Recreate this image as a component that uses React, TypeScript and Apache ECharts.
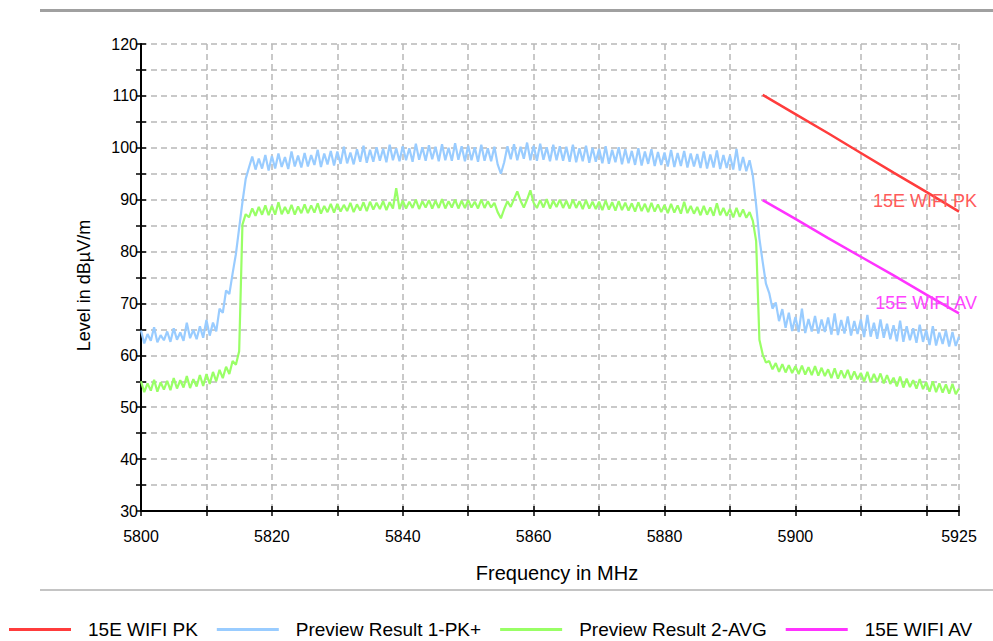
import React, { useEffect, useRef } from "react";
import * as echarts from "echarts";

// ---------- data ----------
const X_TICK_LABELS = [5800, 5820, 5840, 5860, 5880, 5900, 5925];
const Y_TICK_LABELS = [30, 40, 50, 60, 70, 80, 90, 100, 110, 120];

// Sweep traces: one value every 0.5 MHz from 5800 MHz to 5925 MHz
const TRACE_START = 5800;
const TRACE_STEP = 0.5;

const PK_PLUS = [
  64.8, 62.3, 64.1, 62.8, 65.4, 62.5, 63.9, 62.9, 64.6, 62.6,
  65.2, 63.0, 64.4, 62.8, 66.3, 63.3, 64.9, 63.1, 65.6, 63.4,
  66.8, 63.8, 66.3, 64.6, 69.0, 68.2, 72.5, 71.8, 75.8, 79.5,
  84.5, 89.5, 94.0, 96.2, 98.3, 95.8, 97.9, 96.0, 98.6, 95.6,
  98.4, 96.0, 98.9, 96.3, 98.2, 95.9, 99.3, 96.4, 98.5, 96.2,
  99.0, 96.4, 98.6, 96.7, 99.6, 96.3, 98.9, 96.8, 99.4, 96.6,
  99.3, 96.9, 100.2, 97.0, 99.1, 96.8, 99.7, 97.3, 100.4, 97.1,
  99.6, 97.3, 100.1, 97.5, 99.8, 97.2, 100.6, 97.6, 99.9, 97.4,
  100.3, 97.6, 99.9, 97.3, 100.8, 97.7, 100.1, 97.5, 100.5, 97.8,
  100.2, 97.4, 100.7, 97.6, 100.0, 97.5, 100.9, 97.7, 100.3, 97.4,
  100.4, 97.6, 100.1, 97.3, 100.6, 97.5, 99.9, 97.4, 100.2, 96.8,
  95.0, 97.2, 100.3, 97.8, 100.7, 97.6, 100.2, 97.9, 101.0, 97.6,
  100.4, 97.5, 100.8, 97.7, 100.1, 97.4, 100.6, 97.6, 100.3, 97.5,
  100.2, 97.3, 100.6, 97.2, 99.9, 97.4, 100.4, 97.1, 100.0, 97.3,
  99.8, 97.0, 100.3, 96.9, 99.6, 97.2, 100.1, 96.8, 99.7, 97.0,
  99.4, 96.7, 99.9, 96.6, 99.3, 96.9, 99.7, 96.5, 99.2, 96.7,
  99.1, 96.4, 99.6, 96.3, 99.0, 96.5, 99.4, 96.2, 98.9, 96.4,
  98.8, 96.1, 99.3, 96.0, 98.7, 96.2, 99.5, 95.9, 98.6, 96.1,
  98.5, 95.8, 99.8, 95.6, 98.2, 95.5, 97.6, 94.6, 89.0, 82.5,
  78.0, 73.8, 72.0, 69.0, 70.2, 66.6, 68.9, 65.3, 68.2, 64.7,
  67.4, 64.5, 69.0, 64.3, 67.0, 64.6, 67.6, 64.2, 66.9, 64.5,
  67.3, 64.0, 68.1, 63.9, 66.8, 64.2, 67.5, 63.8, 66.6, 64.1,
  66.9, 63.5, 67.8, 63.6, 66.3, 63.2, 66.9, 63.4, 66.1, 63.1,
  65.8, 62.7, 66.7, 62.6, 65.6, 62.9, 65.2, 62.4, 65.9, 62.6,
  64.9, 62.0, 65.6, 61.9, 64.4, 62.2, 64.8, 61.7, 64.5, 61.8,
  63.6,
];

const AVG = [
  55.0, 52.9, 54.6, 53.2, 55.3, 53.0, 54.8, 53.4, 55.1, 53.3,
  55.6, 53.6, 55.2, 53.8, 56.0, 53.7, 55.4, 54.0, 56.2, 54.1,
  56.4, 54.5, 56.8, 55.0, 57.2, 55.6, 57.8, 56.4, 58.9, 58.2,
  60.8, 85.2, 87.2, 86.6, 88.3, 86.9, 88.6, 87.1, 88.9, 87.0,
  88.8, 87.1, 89.5, 87.2, 88.6, 87.3, 89.0, 87.1, 88.7, 87.4,
  89.1, 87.4, 88.9, 87.5, 89.3, 87.3, 88.8, 87.6, 89.2, 87.5,
  89.2, 87.7, 89.0, 87.8, 89.4, 87.6, 89.1, 87.9, 89.5, 87.8,
  89.6, 88.1, 89.4, 88.2, 89.7, 88.0, 89.5, 88.3, 92.2, 88.2,
  89.8, 88.3, 89.6, 88.4, 90.0, 88.2, 89.7, 88.5, 89.9, 88.3,
  89.8, 88.4, 90.1, 88.3, 89.7, 88.5, 90.0, 88.3, 89.8, 88.4,
  89.9, 88.5, 89.6, 88.3, 90.0, 88.4, 89.7, 88.5, 89.4, 87.6,
  86.4, 88.2, 89.7, 88.6, 90.1, 91.6, 89.8, 88.5, 90.0, 91.8,
  89.4, 88.4, 89.9, 88.5, 90.1, 88.3, 89.8, 88.6, 90.0, 88.4,
  89.8, 88.3, 90.0, 88.4, 89.7, 88.2, 89.9, 88.3, 89.6, 88.2,
  89.6, 88.0, 89.8, 88.1, 89.5, 87.9, 89.7, 88.0, 89.4, 87.9,
  89.3, 87.7, 89.5, 87.8, 89.2, 87.6, 89.4, 87.7, 89.1, 87.6,
  89.0, 87.4, 89.2, 87.5, 88.9, 87.3, 89.6, 87.4, 88.8, 87.3,
  88.6, 87.0, 88.8, 87.1, 88.5, 86.9, 89.3, 87.0, 88.4, 86.9,
  88.2, 86.6, 88.4, 86.7, 88.1, 86.5, 87.6, 85.9, 82.0, 63.0,
  60.2, 58.6, 58.9, 57.3, 58.5, 56.8, 58.3, 56.7, 58.1, 56.6,
  57.9, 56.4, 58.0, 56.3, 57.7, 56.2, 57.9, 56.1, 57.6, 56.0,
  57.3, 55.6, 57.5, 55.5, 57.1, 55.6, 57.2, 55.3, 56.9, 55.4,
  56.6, 55.0, 56.8, 54.8, 56.4, 54.9, 56.5, 54.6, 56.2, 54.5,
  55.7, 54.0, 55.9, 53.8, 55.5, 53.9, 55.2, 53.6, 55.4, 53.5,
  54.8, 53.0, 55.0, 52.9, 54.6, 52.8, 54.4, 52.6, 54.5, 52.5,
  53.6,
];

// Limit lines
const LIMIT_FREQ = [5895, 5900, 5905, 5910, 5915, 5920, 5925];
const LIMIT_PK = [110.2, 106.5, 102.8, 99.0, 95.2, 91.5, 87.7];
const LIMIT_AV = [89.9, 86.3, 82.6, 79.0, 75.4, 71.7, 68.1];

const SERIES_NAMES = ["15E WIFI PK", "Preview Result 1-PK+", "Preview Result 2-AVG", "15E WIFI AV"];
const COLORS = ["#ff3c3c", "#99ccff", "#99ff66", "#ff33ff"];

const FONT = "'Liberation Sans', Arial, sans-serif";

export default function App() {
  const ref = useRef<HTMLDivElement>(null);

  useEffect(() => {
    document.body.style.margin = "0";
    if (!ref.current) return;
    const chart = echarts.init(ref.current, null, { renderer: "svg" });

    const trace = (vals: number[]) => vals.map((v, i) => [TRACE_START + i * TRACE_STEP, v]);
    const limit = (vals: number[]) => vals.map((v, i) => [LIMIT_FREQ[i], v]);

    const xFmt = (v: number) => (X_TICK_LABELS.indexOf(v) >= 0 ? String(v) : "");
    const yFmt = (v: number) => (Y_TICK_LABELS.indexOf(v) >= 0 ? String(v) : "");

    const splitStyle = { color: "#b8b8b8", width: 1.5, type: [6, 4] as any };

    const option: any = {
      animation: false,
      backgroundColor: "#ffffff",
      textStyle: { fontFamily: FONT },
      grid: { left: 141, right: 34, top: 44, bottom: 130, containLabel: false },
      xAxis: [
        {
          type: "value",
          min: 5800,
          max: 5925,
          interval: 10,
          position: "bottom",
          name: "Frequency in MHz",
          nameLocation: "middle",
          nameGap: 52,
          nameTextStyle: { color: "#000", fontSize: 20, fontFamily: FONT, padding: [0, 0, 0, 14] },
          axisLine: { onZero: false, lineStyle: { color: "#000", width: 2 } },
          axisTick: { show: true, length: 5, lineStyle: { color: "#000", width: 1.5 } },
          axisLabel: { formatter: xFmt, color: "#000", fontSize: 16, fontFamily: FONT, margin: 17, showMaxLabel: true, showMinLabel: true },
          splitLine: { show: true, lineStyle: splitStyle },
        },
        {
          type: "value",
          min: 5800,
          max: 5925,
          interval: 10,
          position: "bottom",
          axisLine: { show: false, onZero: false },
          axisTick: { show: true, inside: true, length: 5, lineStyle: { color: "#000", width: 1.5 } },
          axisLabel: { show: false },
          splitLine: { show: false },
        },
      ],
      yAxis: [
        {
          type: "value",
          min: 30,
          max: 120,
          interval: 5,
          position: "left",
          name: "Level in dBµV/m",
          nameLocation: "middle",
          nameGap: 48,
          nameRotate: 90,
          nameTextStyle: { color: "#000", fontSize: 18, fontFamily: FONT, padding: [0, 16, 0, 0] },
          axisLine: { onZero: false, lineStyle: { color: "#000", width: 2 } },
          axisTick: { show: true, length: 5, lineStyle: { color: "#000", width: 1.5 } },
          axisLabel: { formatter: yFmt, color: "#000", fontSize: 16, fontFamily: FONT, margin: 3 },
          splitLine: { show: true, lineStyle: splitStyle },
        },
        {
          type: "value",
          min: 30,
          max: 120,
          interval: 5,
          position: "left",
          axisLine: { show: false, onZero: false },
          axisTick: { show: true, inside: true, length: 5, lineStyle: { color: "#000", width: 1.5 } },
          axisLabel: { show: false },
          splitLine: { show: false },
        },
      ],
      legend: {
        left: 4,
        top: 615,
        icon: "rect",
        itemWidth: 62,
        itemHeight: 3,
        itemGap: 19,
        textStyle: { color: "#000", fontSize: 19, fontFamily: FONT, padding: [0, 0, 0, 12] },
        data: SERIES_NAMES,
      },
      graphic: [
        { type: "rect", shape: { x: 40, y: 9, width: 953, height: 3 }, style: { fill: "#a0a0a0" } },
        { type: "rect", shape: { x: 40, y: 589, width: 953, height: 2 }, style: { fill: "#c4c4c4" } },
      ],
      series: [
        {
          name: SERIES_NAMES[0],
          type: "line",
          data: limit(LIMIT_PK),
          showSymbol: false,
          color: COLORS[0],
          lineStyle: { width: 2.5, color: COLORS[0] },
          endLabel: {
            show: true,
            formatter: SERIES_NAMES[0],
            align: "right",
            verticalAlign: "middle",
            distance: 18,
            offset: [0, -11],
            color: "#ff5a5a",
            fontSize: 18,
            fontFamily: FONT,
          },
        },
        {
          name: SERIES_NAMES[1],
          type: "line",
          data: trace(PK_PLUS),
          showSymbol: false,
          color: COLORS[1],
          lineStyle: { width: 2.2, color: COLORS[1] },
        },
        {
          name: SERIES_NAMES[2],
          type: "line",
          data: trace(AVG),
          showSymbol: false,
          color: COLORS[2],
          lineStyle: { width: 2.2, color: COLORS[2] },
        },
        {
          name: SERIES_NAMES[3],
          type: "line",
          data: limit(LIMIT_AV),
          showSymbol: false,
          color: COLORS[3],
          lineStyle: { width: 2.5, color: COLORS[3] },
          endLabel: {
            show: true,
            formatter: SERIES_NAMES[3],
            align: "right",
            verticalAlign: "middle",
            distance: 18,
            offset: [0, -10],
            color: "#ff44ff",
            fontSize: 18,
            fontFamily: FONT,
          },
        },
      ],
    };

    chart.setOption(option);
    return () => chart.dispose();
  }, []);

  return (
    <div
      ref={ref}
      style={{ position: "absolute", left: 0, top: 0, width: 993, height: 641, background: "#fff" }}
    />
  );
}
